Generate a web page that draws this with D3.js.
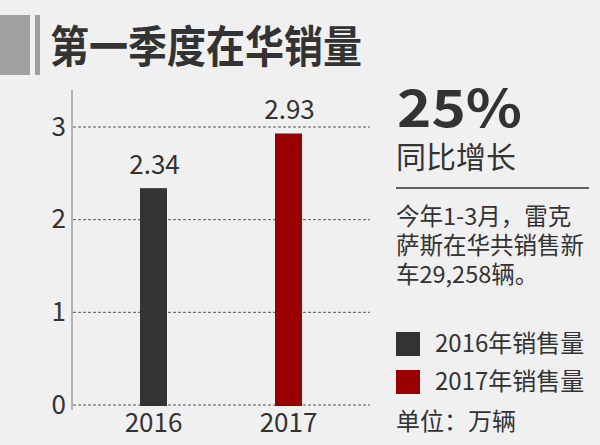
<!DOCTYPE html>
<html><head><meta charset="utf-8">
<script src="https://cdn.jsdelivr.net/npm/d3@7"></script>
<style>
body{margin:0;background:#f0f0f0;}
svg{display:block;}
text{font-family:"Noto Sans CJK SC","Open Sans",sans-serif;}
</style></head>
<body>
<script>
const categories = ["2016", "2017"];
const values = [2.34, 2.93];
const valueLabels = ["2.34", "2.93"];
const yTicks = [0, 1, 2, 3];
const colors = ["#333333", "#990000"];
const legendLabels = ["2016年销售量", "2017年销售量"];
const title = "第一季度在华销量";
const bigNumber = "25%";
const bigCaption = "同比增长";
const noteLines = ["今年1-3月，雷克", "萨斯在华共销售新", "车29,258辆。"];
const unitText = "单位：万辆";

const W = 600, H = 445;
const svg = d3.select("body").append("svg").attr("width", W).attr("height", H);
svg.append("rect").attr("width", W).attr("height", H).attr("fill", "#f0f0f0");

// title decoration
svg.append("rect").attr("x", 0).attr("y", 15).attr("width", 30).attr("height", 60).attr("fill", "#a0a0a0");
svg.append("rect").attr("x", 35).attr("y", 15).attr("width", 5).attr("height", 60).attr("fill", "#a0a0a0");
svg.append("text").attr("x", 50).attr("y", 63).text(title)
  .attr("font-size", 44).attr("font-weight", "bold").attr("fill", "#333")
  .attr("textLength", 312).attr("lengthAdjust", "spacingAndGlyphs");

// chart
const y = d3.scaleLinear().domain([0, 3]).range([405, 127]);
const x = d3.scaleBand().domain(categories).range([86, 356]).paddingInner(0.8).paddingOuter(0.4);

const g = svg.append("g");
// gridlines
g.selectAll("line.grid").data(yTicks).join("line")
  .attr("x1", 73).attr("x2", 370)
  .attr("y1", d => y(d)).attr("y2", d => y(d))
  .attr("stroke", "#555").attr("stroke-width", 1).attr("stroke-dasharray", "3,2");

// axis
const axis = d3.axisLeft(y).tickValues(yTicks).tickSize(0).tickPadding(6).tickFormat(d3.format("d"));
const ag = svg.append("g").attr("transform", "translate(72,0)").call(axis);
ag.select(".domain").remove();
ag.selectAll("text").attr("font-size", 26).attr("fill", "#333").attr("font-family", "'Noto Sans CJK SC','Open Sans',sans-serif");
svg.append("line").attr("x1", 72).attr("x2", 72).attr("y1", 90).attr("y2", 410).attr("stroke", "#777").attr("stroke-width", 1);

// bars
g.selectAll("rect.bar").data(values).join("rect")
  .attr("x", (d, i) => x(categories[i]))
  .attr("width", x.bandwidth())
  .attr("y", d => y(d))
  .attr("height", d => y(0) - y(d) + 1)
  .attr("fill", (d, i) => colors[i]);

g.selectAll("text.val").data(values).join("text")
  .attr("x", (d, i) => x(categories[i]) + x.bandwidth() / 2 + 1)
  .attr("y", d => y(d) - 14)
  .attr("text-anchor", "middle").attr("font-size", 26).attr("fill", "#333")
  .text((d, i) => valueLabels[i]);

const xa = d3.axisBottom(x).tickSize(0).tickPadding(0);
const xg = svg.append("g").attr("transform", "translate(0,405)").call(xa);
xg.select(".domain").remove();
xg.selectAll("text").attr("font-size", 26).attr("fill", "#333").attr("dy", "1.05em")
  .attr("font-family", "'Noto Sans CJK SC','Open Sans',sans-serif");

// right panel
svg.append("text").attr("x", 397).attr("y", 127).text(bigNumber)
  .attr("font-size", 52).attr("font-weight", "bold").attr("fill", "#333")
  .attr("font-family", "'Open Sans','Noto Sans',sans-serif")
  .attr("textLength", 125).attr("lengthAdjust", "spacingAndGlyphs");
svg.append("text").attr("x", 396).attr("y", 168).text(bigCaption)
  .attr("font-size", 30).attr("fill", "#333");
svg.append("line").attr("x1", 396).attr("x2", 589).attr("y1", 188).attr("y2", 188)
  .attr("stroke", "#333").attr("stroke-width", 1.5);

svg.selectAll("text.note").data(noteLines).join("text")
  .attr("x", 396).attr("y", (d, i) => 225 + i * 29)
  .attr("font-size", 23.5).attr("fill", "#333").text(d => d);

const lg = svg.selectAll("g.leg").data(legendLabels).join("g")
  .attr("transform", (d, i) => `translate(396,${332 + i * 38})`);
lg.append("rect").attr("width", 24).attr("height", 24).attr("fill", (d, i) => colors[i]);
lg.append("text").attr("x", 39).attr("y", 20).attr("font-size", 24).attr("fill", "#333").text(d => d);

svg.append("text").attr("x", 396).attr("y", 430).attr("font-size", 24).attr("fill", "#333").text(unitText);
</script>
</body></html>
